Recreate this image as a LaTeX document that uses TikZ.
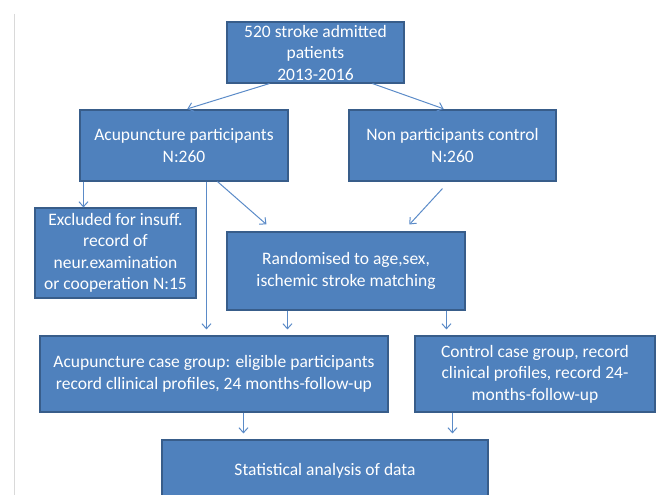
\documentclass[tikz,border=0pt]{standalone}
\usepackage{fontspec}
\setmainfont{Carlito}
\usetikzlibrary{calc, arrows.meta}

\definecolor{boxfill}{HTML}{4F81BD}
\definecolor{boxline}{HTML}{385D8A}
\definecolor{linkblue}{HTML}{5B8BC8}

\begin{document}
\begin{tikzpicture}[x=1pt, y=-1pt,
    box/.style={draw=boxline, fill=boxfill, line width=1.1pt, text=white, align=center,
        inner sep=0pt, font=\fontsize{17.5}{21.5}\selectfont},
    conn/.style={->, draw=linkblue, line width=1pt, >={Straight Barb[length=5pt, width=9pt]}}]
    \useasboundingbox (0,0) rectangle (669,495);
    % Page edge
    \draw[gray!30, line width=0.8pt] (14,14) -- (14,495);

    % Boxes
    \node[box, minimum width=177pt, minimum height=61pt] (top) at (315.5,52.5) {520 stroke admitted\\patients\\2013-2016};
    \node[box, minimum width=208pt, minimum height=71pt] (acup) at (184,145.5) {Acupuncture participants\\N:260};
    \node[box, minimum width=207pt, minimum height=71pt] (non) at (452.5,145.5) {Non participants control\\N:260};
    \node[box, minimum width=161pt, minimum height=90pt] (excl) at (115.5,253) {Excluded for insuff.\\record of\\neur.examination\\or cooperation N:15};
    \node[box, minimum width=238pt, minimum height=78pt] (rand) at (346,271) {Randomised to age,sex,\\ischemic stroke matching};
    \node[box, minimum width=348pt, minimum height=76pt] (acupcase) at (214,374) {Acupuncture case group: eligible participants\\record cllinical profiles, 24 months-follow-up};
    \node[box, minimum width=240pt, minimum height=76pt] (ctrlcase) at (535,374) {Control case group, record\\clinical profiles, record 24-\\months-follow-up};
    \node[box, minimum width=326pt, minimum height=62pt] (stat) at (325,471) {Statistical analysis of data};

    % Arrows from the admitted patients
    \draw[conn, shorten >=2pt] ($(top.south west)+(43,0)$) -- ($(acup.north west)+(106,0)$);
    \draw[conn, shorten >=2pt] ($(top.south west)+(146,0)$) -- ($(non.north west)+(97,0)$);

    % Arrows from the participants
    \draw[conn] ($(acup.south west)+(4,0)$) coordinate (a1) -- (a1 |- excl.north);
    \draw[conn, shorten >=6pt] ($(acup.south west)+(127,0)$) coordinate (a2) -- (a2 |- acupcase.north);
    \draw[conn] ($(acup.south west)+(138,0)$) -- ($(rand.north west)+(40,-7)$);
    \draw[conn] ($(non.south west)+(94,7)$) -- ($(rand.north west)+(183,-7)$);

    % Arrows to the case groups
    \draw[conn, shorten >=6pt] ($(rand.south west)+(61,0)$) coordinate (r1) -- (r1 |- acupcase.north);
    \draw[conn, shorten >=6pt] ($(rand.south west)+(220,0)$) coordinate (r2) -- (r2 |- ctrlcase.north);

    % Arrows to the analysis
    \draw[conn, shorten >=6pt] ($(acupcase.south west)+(204,0)$) coordinate (c1) -- (c1 |- stat.north);
    \draw[conn, shorten >=6pt] ($(ctrlcase.south west)+(38,0)$) coordinate (c2) -- (c2 |- stat.north);
\end{tikzpicture}
\end{document}
